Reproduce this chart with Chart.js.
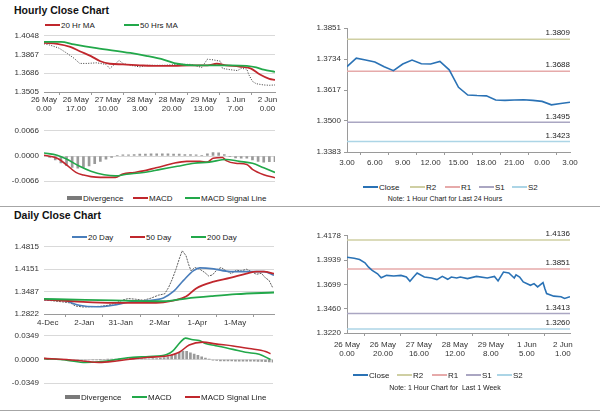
<!DOCTYPE html>
<html>
<head>
<meta charset="utf-8">
<script src="https://cdn.jsdelivr.net/npm/chart.js@4.4.0/dist/chart.umd.min.js"></script>
<style>
body { margin: 0; width: 600px; height: 413px; background: #fff; position: relative; overflow: hidden; font-family: "Liberation Sans", Arial, sans-serif; }
canvas, .title, .lg, .note, .sep { position: absolute; }
.title { font-weight: bold; font-size: 10.5px; color: #111; left: 14px; }
.lg { font-size: 8px; color: #222; display: flex; align-items: center; white-space: nowrap; height: 10px; }
.lg i { display: inline-block; width: 15px; height: 2px; margin-right: 1px; }
.lg i.box { height: 4px; background: #7a7a7a; }
.note { font-size: 7px; color: #222; width: 200px; text-align: center; }
.sep { height: 1px; background: #a6a6a6; left: 0; width: 600px; }
</style>
</head>
<body>

<div class="title" style="top:4px">Hourly Close Chart</div>
<div class="lg" style="left:45px;top:20px"><i style="background:#c0272d"></i>20 Hr MA</div>
<div class="lg" style="left:124px;top:20px"><i style="background:#22a84a"></i>50 Hrs MA</div>
<canvas id="hourPrice" width="290" height="90" style="left:0;top:26px"></canvas>
<canvas id="hourMacd" width="290" height="70" style="left:0;top:121px"></canvas>
<div class="lg" style="left:67px;top:193px"><i class="box"></i>Divergence</div>
<div class="lg" style="left:133px;top:193px"><i style="background:#c0272d"></i>MACD</div>
<div class="lg" style="left:185px;top:193px"><i style="background:#22a84a"></i>MACD Signal Line</div>

<canvas id="dayLevels" width="285" height="150" style="left:300px;top:20px"></canvas>
<div class="lg" style="left:363px;top:182px"><i style="background:#2a72b5"></i>Close</div>
<div class="lg" style="left:410px;top:182px"><i style="background:#cfcfa3"></i>R2</div>
<div class="lg" style="left:445px;top:182px"><i style="background:#e6aaaa"></i>R1</div>
<div class="lg" style="left:479px;top:182px"><i style="background:#aaa6c2"></i>S1</div>
<div class="lg" style="left:512px;top:182px"><i style="background:#acd5e6"></i>S2</div>
<div class="note" style="left:345px;top:195px">Note: 1 Hour Chart for Last 24 Hours</div>

<div class="sep" style="top:206px"></div>

<div class="title" style="top:209px">Daily Close Chart</div>
<div class="lg" style="left:72px;top:232px"><i style="background:#4a7ebb"></i>20 Day</div>
<div class="lg" style="left:130px;top:232px"><i style="background:#c0272d"></i>50 Day</div>
<div class="lg" style="left:191px;top:232px"><i style="background:#22a84a"></i>200 Day</div>
<canvas id="dayPrice" width="290" height="92" style="left:0;top:237px"></canvas>
<canvas id="dayMacd" width="290" height="67" style="left:0;top:326px"></canvas>
<div class="lg" style="left:65px;top:392px"><i class="box"></i>Divergence</div>
<div class="lg" style="left:132px;top:392px"><i style="background:#22a84a"></i>MACD</div>
<div class="lg" style="left:185px;top:392px"><i style="background:#c0272d"></i>MACD Signal Line</div>

<canvas id="weekLevels" width="285" height="133" style="left:300px;top:228px"></canvas>
<div class="lg" style="left:353px;top:370px"><i style="background:#2a72b5"></i>Close</div>
<div class="lg" style="left:397px;top:370px"><i style="background:#cfcfa3"></i>R2</div>
<div class="lg" style="left:432px;top:370px"><i style="background:#e6aaaa"></i>R1</div>
<div class="lg" style="left:466px;top:370px"><i style="background:#aaa6c2"></i>S1</div>
<div class="lg" style="left:497px;top:370px"><i style="background:#acd5e6"></i>S2</div>
<div class="note" style="left:345px;top:384px">Note: 1 Hour Chart for&nbsp; Last 1 Week</div>

<div class="sep" style="top:410px"></div>

<script>
// ---- hourly (last week) ----
const hourTicks = [0, 17, 34, 51, 68, 85, 102, 119];
const hourTickLabels = [["26 May", "0.00"], ["26 May", "17.00"], ["27 May", "10.00"], ["28 May", "3.00"],
    ["28 May", "20.00"], ["29 May", "13.00"], ["1 Jun", "7.00"], ["2 Jun", "0.00"]];
const hourPriceTicks = [1.3505, 1.3686, 1.3867, 1.4048];

const closeHours = [0, 3, 8, 12, 16, 19, 23, 28, 33, 35, 37, 40, 42, 46, 51, 55, 64, 72, 78, 81, 84, 87, 90, 94, 95, 99, 103, 105, 108, 109, 111, 113, 117, 120, 123];
const closeHourly = [1.3971, 1.3959, 1.3929, 1.3882, 1.3831, 1.3781, 1.3781, 1.3787, 1.3772, 1.3733, 1.3763, 1.3810, 1.3781, 1.3763, 1.3748, 1.3763, 1.3763, 1.3772, 1.3772, 1.3757,
    1.3742, 1.3822, 1.3816, 1.3802, 1.3733, 1.3721, 1.3712, 1.3733, 1.3727, 1.3674, 1.3608, 1.3585, 1.3573, 1.3570, 1.3573];

const ma20Hours = [0, 7, 14, 19, 25, 30, 35, 42, 51, 60, 69, 78, 87, 92, 97, 104, 110, 115, 120, 123];
const ma20Hourly = [1.3980, 1.3971, 1.3941, 1.3899, 1.3852, 1.3802, 1.3778, 1.3772, 1.3763, 1.3757, 1.3757, 1.3763, 1.3763, 1.3778, 1.3763, 1.3751, 1.3733, 1.3674, 1.3632, 1.3623];

const ma50Hours = [0, 9, 16, 28, 46, 55, 64, 71, 81, 90, 99, 108, 113, 117, 123];
const ma50Hourly = [1.3989, 1.3989, 1.3965, 1.3929, 1.3882, 1.3852, 1.3816, 1.3778, 1.3763, 1.3763, 1.3763, 1.3757, 1.3742, 1.3721, 1.3700];

const hourMacdTicks = [-0.0066, 0, 0.0066];
const macdHours = [0, 7, 12, 17, 21, 25, 30, 35, 38, 42, 48, 53, 58, 63, 69, 76, 83, 87, 90, 95, 97, 102, 108, 111, 117, 123];
const macdHourly = [0.0002, -0.0006, -0.0023, -0.0043, -0.0050, -0.0054, -0.0056, -0.0056, -0.0056, -0.0047, -0.0043, -0.0039, -0.0033, -0.0027, -0.0019, -0.0014, -0.0014, -0.0016, -0.0006, -0.0004,
    -0.0012, -0.0019, -0.0022, -0.0035, -0.0049, -0.0057];
const signalHours = [0, 7, 12, 19, 25, 32, 38, 44, 53, 62, 71, 80, 88, 97, 104, 111, 117, 123];
const signalHourly = [0.0008, 0.0002, -0.0008, -0.0027, -0.0040, -0.0049, -0.0052, -0.0048, -0.0043, -0.0035, -0.0027, -0.0019, -0.0016, -0.0009, -0.0014, -0.0019, -0.0031, -0.0043];
// one bar every 3 hours
const divHourly = [0.0000, -0.0004, -0.0010, -0.0018, -0.0025, -0.0030, -0.0032, -0.0030, -0.0026, -0.0020, -0.0014, -0.0008, -0.0004, 0.0002, 0.0003, 0.0003, 0.0004, 0.0005, 0.0005, 0.0006, 0.0006,
    0.0006, 0.0006, 0.0005, 0.0005, 0.0004, 0.0004, 0.0003, 0.0002, 0.0006, 0.0009, 0.0008, 0.0004, -0.0002, -0.0005, -0.0006, -0.0006, -0.0010, -0.0014, -0.0016, -0.0015, -0.0015];

// ---- last 24 hours with pivot levels ----
const dayHourLabels = ["3.00", "6.00", "9.00", "12.00", "15.00", "18.00", "21.00", "0.00", "3.00"];
const dayLevelTicks = [1.3383, 1.3500, 1.3617, 1.3734, 1.3851];
const dayClose = [1.3705, 1.3737, 1.3730, 1.3723, 1.3705, 1.3690, 1.3715, 1.3730, 1.3716, 1.3715, 1.3725, 1.3693, 1.3627,
    1.3598, 1.3596, 1.3595, 1.3579, 1.3578, 1.3579, 1.3580, 1.3578, 1.3574, 1.3561, 1.3566, 1.3571];
const dayLevels = { R2: 1.3809, R1: 1.3688, S1: 1.3495, S2: 1.3423 };

// ---- daily ----
const dailyTicks = [0, 29, 58, 89, 119, 149];
const dailyTickLabels = ["4-Dec", "2-Jan", "31-Jan", "2-Mar", "1-Apr", "1-May"];
const dailyPriceTicks = [1.2822, 1.3487, 1.4151, 1.4815];

const closeDays = [-3, 5, 12, 18, 22, 28, 35, 42, 48, 55, 60, 64, 70, 76, 82, 88, 93, 96, 99, 102, 105, 107, 110, 112, 114, 117, 121, 125, 128, 131,
    135, 138, 142, 146, 150, 154, 158, 162, 166, 170, 173, 176, 179];
const closeDaily = [1.3240, 1.3210, 1.3180, 1.3150, 1.3060, 1.3030, 1.3040, 1.3050, 1.3080, 1.3160, 1.3240, 1.3280, 1.3260, 1.3230, 1.3290, 1.3380, 1.3420, 1.3600, 1.3850, 1.4150,
    1.4500, 1.4700, 1.4550, 1.4300, 1.4100, 1.4200, 1.4150, 1.4050, 1.3950, 1.3980, 1.4150, 1.4200, 1.4100, 1.4020, 1.4120, 1.4100, 1.4150, 1.4080, 1.4000, 1.4030,
    1.3900, 1.3820, 1.3600];

const ma20Days = [-3, 12, 25, 39, 52, 65, 79, 92, 100, 108, 116, 121, 132, 145, 158, 172, 180];
const ma20Daily = [1.3250, 1.3230, 1.3080, 1.3035, 1.3080, 1.3180, 1.3220, 1.3300, 1.3490, 1.3820, 1.4110, 1.4190, 1.4160, 1.4080, 1.4080, 1.4080, 1.3970];
const ma50Days = [-3, 20, 52, 78, 92, 110, 118, 132, 145, 158, 166, 172, 180];
const ma50Daily = [1.3250, 1.3200, 1.3150, 1.3150, 1.3170, 1.3340, 1.3580, 1.3780, 1.3890, 1.4020, 1.4080, 1.4080, 1.4020];
const ma200Days = [-3, 30, 60, 92, 110, 130, 150, 180];
const ma200Daily = [1.3270, 1.3240, 1.3220, 1.3200, 1.3280, 1.3350, 1.3410, 1.3460];

const dailyMacdTicks = [-0.0349, 0, 0.0349];
const macdDays = [-3, 15, 30, 41, 52, 68, 81, 95, 100, 106, 110, 116, 121, 126, 134, 148, 158, 169, 178];
const macdDaily = [0.0013, -0.0009, -0.0043, -0.0034, -0.0009, 0.0034, 0.0043, 0.0072, 0.0128, 0.0256, 0.0315, 0.0290, 0.0281, 0.0234, 0.0204, 0.0149, 0.0106, 0.0077, 0.0000];
const signalDays = [-3, 15, 28, 41, 55, 68, 81, 95, 105, 113, 124, 134, 148, 161, 174, 178];
const signalDaily = [0.0017, 0.0000, -0.0021, -0.0043, -0.0021, 0.0009, 0.0034, 0.0051, 0.0106, 0.0213, 0.0256, 0.0230, 0.0200, 0.0162, 0.0119, 0.0085];
// one bar every 3 days
const divDaily = [0.0002, 0.0002, 0.0001, 0.0000, -0.0003, -0.0006, -0.0008, -0.0010, -0.0012, -0.0012, -0.0010, -0.0008, -0.0006, -0.0004, -0.0002, 0.0000, 0.0002, 0.0005, 0.0008, 0.0010,
    0.0012, 0.0013, 0.0013, 0.0012, 0.0011, 0.0010, 0.0010, 0.0010, 0.0012, 0.0015, 0.0020, 0.0028, 0.0040, 0.0060, 0.0080, 0.0105, 0.0125, 0.0120, 0.0100, 0.0080,
    0.0060, 0.0040, 0.0020, 0.0005, -0.0010, -0.0015, -0.0020, -0.0022, -0.0022, -0.0022, -0.0023, -0.0023, -0.0024, -0.0025, -0.0025, -0.0026, -0.0028, -0.0030, -0.0032, -0.0035, -0.0040];

// ---- last week hourly with pivot levels ----
const weekTicks = [0, 20, 40, 60, 80, 100, 120];
const weekTickLabels = [["26 May", "0.00"], ["26 May", "20.00"], ["27 May", "16.00"], ["28 May", "12.00"], ["29 May", "8.00"], ["1 Jun", "5.00"], ["2 Jun", "1.00"]];
const weekLevelTicks = [1.3220, 1.3460, 1.3699, 1.3939, 1.4178];
const weekHours = [0, 4, 7, 10, 12, 14, 17, 19, 22, 26, 30, 33, 35, 37, 39, 43, 47, 50, 53, 56, 58, 61, 63, 67, 72, 78, 82, 84, 87, 90,
    93, 94, 96, 98, 102, 104, 106, 109, 110, 111, 115, 119, 121, 124];
const weekClose = [1.3967, 1.3957, 1.3944, 1.3912, 1.3869, 1.3837, 1.3804, 1.3765, 1.3788, 1.3782, 1.3788, 1.3772, 1.3730, 1.3772, 1.3811, 1.3772, 1.3762, 1.3746, 1.3778, 1.3749,
    1.3772, 1.3762, 1.3772, 1.3756, 1.3778, 1.3762, 1.3778, 1.3733, 1.3821, 1.3811, 1.3762, 1.3794, 1.3772, 1.3723, 1.3690, 1.3707, 1.3674, 1.3717, 1.3658, 1.3609,
    1.3583, 1.3577, 1.3560, 1.3577];
const weekLevels = { R2: 1.4136, R1: 1.3851, S1: 1.3413, S2: 1.3260 };


const fontFamily = "'Liberation Sans', Arial, sans-serif";
const tickFont = { family: fontFamily, size: 8 };
const textColour = '#333';
const gridColour = '#d9d9d9';
const axisColour = '#9a9a9a';
const red = '#c0272d';
const green = '#22a84a';
const blue = '#4a7ebb';
const closeBlue = '#2a72b5';
const levelColours = { R2: '#cfcfa3', R1: '#e6aaaa', S1: '#aaa6c2', S2: '#acd5e6' };

const points = (xs, ys) => xs.map((x, i) => ({ x: x, y: ys[i] }));
const fixedTicks = values => scale => { scale.ticks = values.map(v => ({ value: v })); };

function line(xs, ys, colour, width, extra) {
    return Object.assign({
        type: 'line', data: points(xs, ys), borderColor: colour, borderWidth: width,
        pointRadius: 0, cubicInterpolationMode: 'monotone', order: 1
    }, extra || {});
}

function bars(values, step, start, thickness) {
    return {
        type: 'bar', data: values.map((v, i) => ({ x: start + i * step, y: v })),
        backgroundColor: '#9a9a9a', barThickness: thickness, order: 5
    };
}

function levelLines(levels, xMax) {
    return Object.keys(levels).map(k => ({
        type: 'line', data: [{ x: 0, y: levels[k] }, { x: xMax, y: levels[k] }],
        borderColor: levelColours[k], borderWidth: 1.5, pointRadius: 0, order: 2
    }));
}

// writes the level value just above each pivot line
function levelLabels(levels) {
    return {
        id: 'levelLabels',
        afterDatasetsDraw: (chart) => {
            const ctx = chart.ctx;
            ctx.save();
            ctx.font = `8px ${fontFamily}`;
            ctx.fillStyle = '#222';
            ctx.textAlign = 'right';
            ctx.textBaseline = 'bottom';
            for (const k of Object.keys(levels)) {
                ctx.fillText(levels[k].toFixed(4), chart.chartArea.right, chart.scales.y.getPixelForValue(levels[k]) - 2);
            }
            ctx.restore();
        }
    };
}

/**
 * @param {string} id canvas id
 * @param {object} cfg x/y ranges, ticks, sizes
 */
function drawChart(id, datasets, cfg) {
    const gridY = cfg.boxed
        ? { drawOnChartArea: false, tickLength: 3, color: axisColour }
        : { color: gridColour, drawTicks: false };
    return new Chart(document.getElementById(id), {
        type: 'bar',
        data: { datasets: datasets },
        options: {
            responsive: false,
            animation: false,
            layout: { padding: cfg.padding },
            plugins: { legend: { display: false }, tooltip: { enabled: false } },
            scales: {
                x: {
                    type: 'linear', min: cfg.xMin, max: cfg.xMax, offset: false,
                    display: cfg.xLabels != null,
                    afterBuildTicks: fixedTicks(cfg.xTicks || []),
                    afterFit: (scale) => { scale.height = cfg.xHeight || 0; },
                    ticks: {
                        font: Object.assign({ lineHeight: 1.05 }, tickFont), color: textColour,
                        maxRotation: 0, autoSkip: false, padding: cfg.xPad || 1,
                        callback: (v) => cfg.xLabels[cfg.xTicks.indexOf(v)]
                    },
                    grid: { drawOnChartArea: false, tickLength: 3, color: axisColour },
                    border: { color: axisColour }
                },
                y: {
                    min: cfg.yTicks[0], max: cfg.yTicks[cfg.yTicks.length - 1],
                    afterBuildTicks: fixedTicks(cfg.yTicks),
                    afterFit: (scale) => { scale.width = cfg.yWidth; },
                    ticks: { font: tickFont, color: textColour, padding: cfg.boxed ? 3 : 5, callback: (v) => v.toFixed(4) },
                    grid: gridY,
                    border: { display: !!cfg.boxed, color: axisColour }
                }
            }
        },
        plugins: cfg.plugins || []
    });
}


drawChart('hourPrice', [
    line(closeHours, closeHourly, '#3a3a3a', 1, { cubicInterpolationMode: 'default', borderDash: [1, 1.5], order: 3 }),
    line(ma50Hours, ma50Hourly, green, 1.8),
    line(ma20Hours, ma20Hourly, red, 1.8)
], {
    xMin: 0, xMax: 123, xTicks: hourTicks, xLabels: hourTickLabels, xHeight: 24, xPad: 1,
    yTicks: hourPriceTicks, yWidth: 44, padding: { top: 6, right: 15, bottom: 0, left: 0 }
});

drawChart('hourMacd', [
    bars(divHourly, 3, 0, 2),
    line(signalHours, signalHourly, green, 1.6),
    line(macdHours, macdHourly, red, 1.6)
], {
    xMin: 0, xMax: 123, yTicks: hourMacdTicks, yWidth: 44,
    padding: { top: 7, right: 15, bottom: 6, left: 0 }
});

drawChart('dayLevels', [
    ...levelLines(dayLevels, 24),
    line(dayClose.map((v, i) => i), dayClose, closeBlue, 1.6, { cubicInterpolationMode: 'default' })
], {
    xMin: 0, xMax: 24, xTicks: [0, 3, 6, 9, 12, 15, 18, 21, 24], xLabels: dayHourLabels, xHeight: 18, xPad: 4,
    yTicks: dayLevelTicks, yWidth: 47, boxed: true, padding: { top: 8, right: 15, bottom: 0, left: 0 },
    plugins: [levelLabels(dayLevels)]
});

drawChart('dayPrice', [
    line(closeDays, closeDaily, '#5e5e5e', 1, { cubicInterpolationMode: 'default', borderDash: [2, 1], order: 3 }),
    line(ma200Days, ma200Daily, green, 1.8),
    line(ma50Days, ma50Daily, red, 1.8),
    line(ma20Days, ma20Daily, blue, 1.6)
], {
    xMin: -3, xMax: 180, xTicks: dailyTicks, xLabels: dailyTickLabels, xHeight: 15, xPad: 2,
    yTicks: dailyPriceTicks, yWidth: 44, padding: { top: 7, right: 16, bottom: 0, left: 0 }
});

drawChart('dayMacd', [
    bars(divDaily, 3, 0, 2),
    line(signalDays, signalDaily, red, 1.6),
    line(macdDays, macdDaily, green, 1.6)
], {
    xMin: -3, xMax: 180, yTicks: dailyMacdTicks, yWidth: 44,
    padding: { top: 7, right: 17, bottom: 5, left: 0 }
});

drawChart('weekLevels', [
    ...levelLines(weekLevels, 124),
    line(weekHours, weekClose, closeBlue, 1.6, { cubicInterpolationMode: 'default' })
], {
    xMin: 0, xMax: 124, xTicks: weekTicks, xLabels: weekTickLabels, xHeight: 28, xPad: 5,
    yTicks: weekLevelTicks, yWidth: 47, boxed: true, padding: { top: 7, right: 15, bottom: 0, left: 0 },
    plugins: [levelLabels(weekLevels)]
});
</script>
</body>
</html>
